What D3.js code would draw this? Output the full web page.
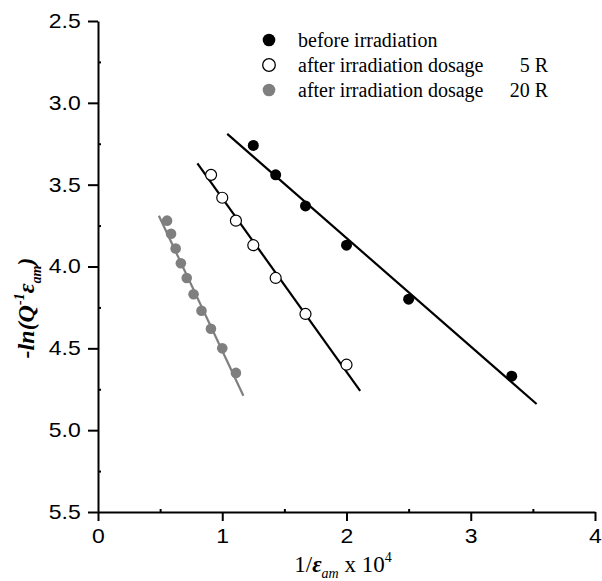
<!DOCTYPE html>
<html>
<head>
<meta charset="utf-8">
<script src="https://cdn.jsdelivr.net/npm/d3@7"></script>
<style>
	body { margin: 0; background: #fff; }
	svg { display: block; }
	.axis path, .axis line { stroke: #000; stroke-width: 2px; }
	.axis text { font-family: "Liberation Sans", Arial, sans-serif; font-size: 20px; fill: #000; }
	.legend text, .x-label { font-family: "Liberation Serif", "Times New Roman", serif; fill: #000; }
</style>
</head>
<body>
<div class="q-chart"></div>
<script>
// values (1/eps_am x 10^4  vs  -ln(Q^-1 eps_am))
var beforeX = [1.25, 1.43, 1.67, 2.0, 2.5, 3.33];
var beforeY = [3.26, 3.44, 3.63, 3.87, 4.20, 4.67];
var dose5X = [0.91, 1.0, 1.11, 1.25, 1.43, 1.67, 2.0];
var dose5Y = [3.44, 3.58, 3.72, 3.87, 4.07, 4.29, 4.60];
var dose20X = [0.556, 0.588, 0.625, 0.667, 0.714, 0.769, 0.833, 0.909, 1.0, 1.11];
var dose20Y = [3.72, 3.80, 3.89, 3.98, 4.07, 4.17, 4.27, 4.38, 4.50, 4.65];

// fitted lines, end points
var fitBefore = [[1.04, 3.19], [3.53, 4.84]];
var fitDose5 = [[0.80, 3.37], [2.11, 4.76]];
var fitDose20 = [[0.49, 3.69], [1.17, 4.79]];

var xTicks = [0, 1, 2, 3, 4];
var xMinor = [0.5, 1.5, 2.5, 3.5];
var yTicks = [2.5, 3.0, 3.5, 4.0, 4.5, 5.0, 5.5];
var yMinor = [2.75, 3.25, 3.75, 4.25, 4.75, 5.25];

var legendLabels = ['before irradiation', 'after irradiation dosage', 'after irradiation dosage'];
var legendDose = ['', '5 R', '20 R'];

drawChart();

function drawChart() {
	var width = 602, height = 581;
	var margin = { top: 21, right: 7, bottom: 69, left: 98 };
	var innerW = width - margin.left - margin.right;
	var innerH = height - margin.top - margin.bottom;
	var grey = '#7f7f7f';

	var svg = d3.select('.q-chart')
		.append('svg')
		.attr('width', width)
		.attr('height', height);

	var wrapper = svg.append('g')
		.attr('transform', 'translate(' + margin.left + ',' + margin.top + ')');

	var xScale = d3.scaleLinear().domain([0, 4]).range([0, innerW]);
	var yScale = d3.scaleLinear().domain([2.5, 5.5]).range([0, innerH]);

	// axes
	var xAxis = wrapper.append('g')
		.attr('class', 'axis x-axis')
		.attr('transform', 'translate(0,' + innerH + ')')
		.call(d3.axisBottom(xScale).tickValues(xTicks).tickFormat(d3.format('d')).tickSizeInner(9).tickSizeOuter(0).tickPadding(8));
	xAxis.selectAll('text').attr('transform', 'scale(1.15,1)');

	wrapper.append('g')
		.attr('class', 'axis x-minor')
		.attr('transform', 'translate(0,' + innerH + ')')
		.call(d3.axisBottom(xScale).tickValues(xMinor).tickFormat('').tickSizeInner(-3).tickSizeOuter(0))
		.select('.domain').remove();

	var yAxis = wrapper.append('g')
		.attr('class', 'axis y-axis')
		.call(d3.axisLeft(yScale).tickValues(yTicks).tickFormat(d3.format('.1f')).tickSizeInner(10).tickSizeOuter(0).tickPadding(5));
	yAxis.selectAll('text').attr('transform', 'scale(1.15,1)');

	wrapper.append('g')
		.attr('class', 'axis y-minor')
		.call(d3.axisLeft(yScale).tickValues(yMinor).tickFormat('').tickSizeInner(-3).tickSizeOuter(0))
		.select('.domain').remove();

	// fit lines
	var line = d3.line()
		.x(function(d) { return xScale(d[0]); })
		.y(function(d) { return yScale(d[1]); });

	var fits = [
		{ pts: fitBefore, color: '#000' },
		{ pts: fitDose5, color: '#000' },
		{ pts: fitDose20, color: grey }
	];

	wrapper.selectAll('.fit')
		.data(fits)
		.enter()
		.append('path')
		.attr('class', 'fit')
		.attr('d', function(d) { return line(d.pts); })
		.attr('fill', 'none')
		.attr('stroke', function(d) { return d.color; })
		.attr('stroke-width', 2.2);

	// points
	var series = [
		{ xs: beforeX, ys: beforeY, fill: '#000', stroke: 'none', r: 5.5 },
		{ xs: dose5X, ys: dose5Y, fill: '#fff', stroke: '#000', r: 5.5 },
		{ xs: dose20X, ys: dose20Y, fill: grey, stroke: 'none', r: 5.3 }
	];

	series.forEach(function(s) {
		wrapper.append('g')
			.selectAll('circle')
			.data(s.xs.map(function(x, i) { return [x, s.ys[i]]; }))
			.enter()
			.append('circle')
			.attr('cx', function(d) { return xScale(d[0]); })
			.attr('cy', function(d) { return yScale(d[1]); })
			.attr('r', s.r)
			.attr('fill', s.fill)
			.attr('stroke', s.stroke)
			.attr('stroke-width', 1.2);
	});

	// legend
	var legend = svg.append('g')
		.attr('class', 'legend')
		.attr('transform', 'translate(269,40)');

	var row = legend.selectAll('.row')
		.data(legendLabels)
		.enter()
		.append('g')
		.attr('class', 'row')
		.attr('transform', function(d, i) { return 'translate(0,' + (25 * i) + ')'; });

	row.append('circle')
		.attr('r', 6.3)
		.attr('fill', function(d, i) { return series[i].fill; })
		.attr('stroke', function(d, i) { return series[i].stroke; })
		.attr('stroke-width', 1.3);

	row.append('text')
		.attr('x', 29)
		.attr('y', 7)
		.style('font-size', '20px')
		.text(function(d) { return d; });

	row.append('text')
		.attr('x', 279)
		.attr('y', 7)
		.attr('text-anchor', 'end')
		.style('font-size', '20px')
		.text(function(d, i) { return legendDose[i]; });

	// axis titles
	var xLabel = svg.append('text')
		.attr('class', 'x-label')
		.attr('x', 343)
		.attr('y', 572)
		.attr('text-anchor', 'middle')
		.style('font-size', '23px');
	xLabel.append('tspan').text('1/');
	xLabel.append('tspan').style('font-weight', 'bold').style('font-style', 'italic').text('ε');
	xLabel.append('tspan').attr('dy', 6).style('font-size', '14px').style('font-style', 'italic').text('am');
	xLabel.append('tspan').attr('dy', -6).text(' x 10');
	xLabel.append('tspan').attr('dy', -10).style('font-size', '14px').text('4');

	var yLabel = svg.append('text')
		.attr('class', 'x-label')
		.attr('transform', 'translate(34,308) rotate(-90)')
		.attr('text-anchor', 'middle')
		.style('font-size', '24px')
		.style('font-weight', 'bold')
		.style('font-style', 'italic');
	yLabel.append('tspan').text('-ln(Q');
	yLabel.append('tspan').attr('dy', -10).style('font-size', '14px').text('-1');
	yLabel.append('tspan').attr('dy', 10).text('ε');
	yLabel.append('tspan').attr('dy', 7).style('font-size', '14px').text('am');
	yLabel.append('tspan').attr('dy', -7).text(')');
}
</script>
</body>
</html>
